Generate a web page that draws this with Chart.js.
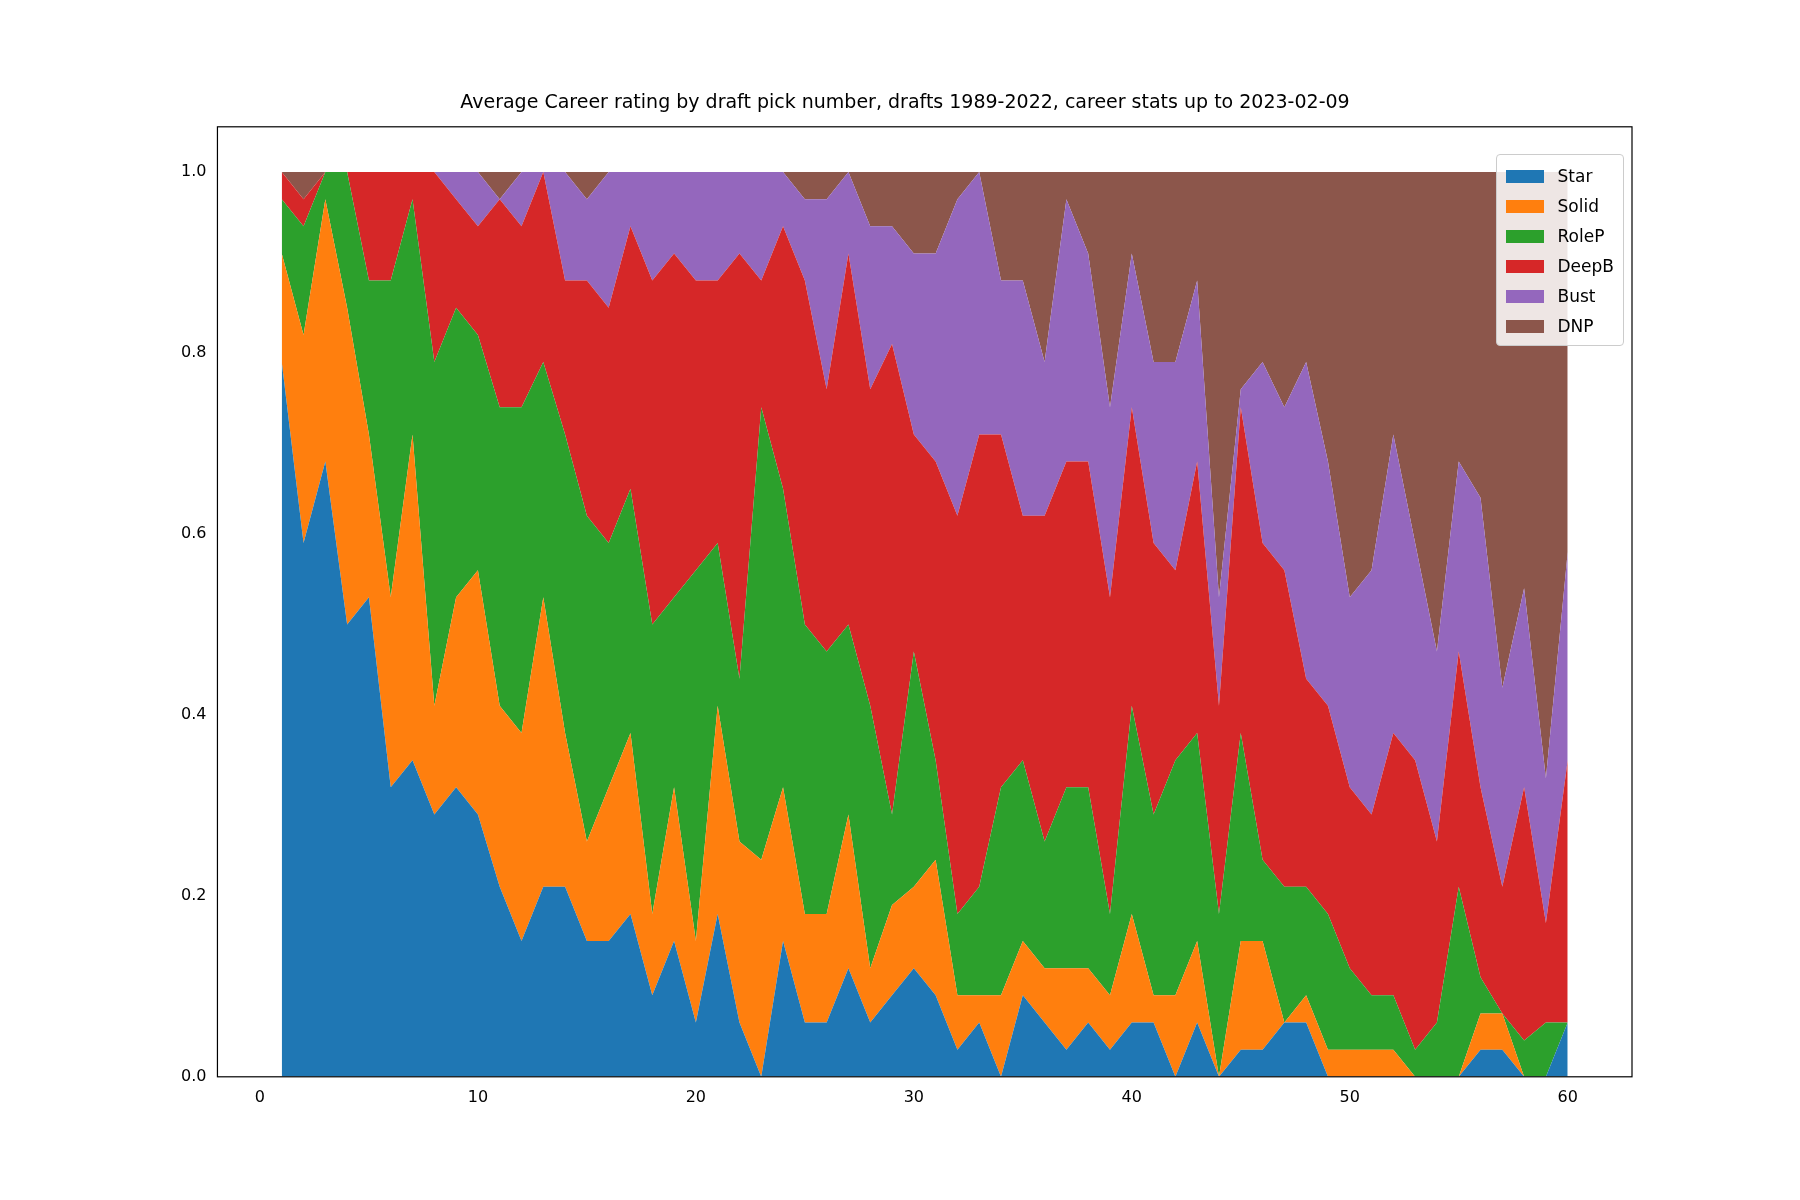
<!DOCTYPE html>
<html>
<head>
<meta charset="utf-8">
<script src="https://cdn.jsdelivr.net/npm/chart.js@4"></script>
<style>
  body { margin: 0; background: #fff; }
  #wrap { position: relative; width: 1800px; height: 1200px; }
  #legend { position: absolute; right: 176px; top: 154px; background: rgba(255,255,255,0.85);
    border: 1px solid #ccc; border-radius: 4px; padding: 6px 9px 4px 9px;
    font: 17px "DejaVu Sans", sans-serif; color: #000; }
  #legend div { display: flex; align-items: center; height: 30px; }
  #legend span.box { width: 38px; height: 13px; margin-right: 14px; display: inline-block; }
</style>
</head>
<body>
<div id="wrap">
  <canvas id="myChart" width="1800" height="1200"></canvas>
  <div id="legend"></div>
</div>
<script>
// cumulative top edges of each band, picks 1..60
const picks = Array.from({length: 60}, (_, i) => i + 1);
const starTop  = [0.79,0.59,0.68,0.50,0.53,0.32,0.35,0.29,0.32,0.29,0.21,0.15,0.21,0.21,0.15,0.15,0.18,0.09,0.15,0.06,
                  0.18,0.06,0.00,0.15,0.06,0.06,0.12,0.06,0.09,0.12,0.09,0.03,0.06,0.00,0.09,0.06,0.03,0.06,0.03,0.06,
                  0.06,0.00,0.06,0.00,0.03,0.03,0.06,0.06,0.00,0.00,0.00,0.00,0.00,0.00,0.00,0.03,0.03,0.00,0.00,0.06];
const solidTop = [0.91,0.82,0.97,0.85,0.71,0.53,0.71,0.41,0.53,0.56,0.41,0.38,0.53,0.38,0.26,0.32,0.38,0.18,0.32,0.15,
                  0.41,0.26,0.24,0.32,0.18,0.18,0.29,0.12,0.19,0.21,0.24,0.09,0.09,0.09,0.15,0.12,0.12,0.12,0.09,0.18,
                  0.09,0.09,0.15,0.00,0.15,0.15,0.06,0.09,0.03,0.03,0.03,0.03,0.00,0.00,0.00,0.07,0.07,0.00,0.00,0.06];
const rolePTop = [0.97,0.94,1.00,1.00,0.88,0.88,0.97,0.79,0.85,0.82,0.74,0.74,0.79,0.71,0.62,0.59,0.65,0.50,0.53,0.56,
                  0.59,0.44,0.74,0.65,0.50,0.47,0.50,0.41,0.29,0.47,0.35,0.18,0.21,0.32,0.35,0.26,0.32,0.32,0.18,0.41,
                  0.29,0.35,0.38,0.18,0.38,0.24,0.21,0.21,0.18,0.12,0.09,0.09,0.03,0.06,0.21,0.11,0.07,0.04,0.06,0.06];
const deepBTop = [1.00,0.97,1.00,1.00,1.00,1.00,1.00,1.00,0.97,0.94,0.97,0.94,1.00,0.88,0.88,0.85,0.94,0.88,0.91,0.88,
                  0.88,0.91,0.88,0.94,0.88,0.76,0.91,0.76,0.81,0.71,0.68,0.62,0.71,0.71,0.62,0.62,0.68,0.68,0.53,0.74,
                  0.59,0.56,0.68,0.41,0.74,0.59,0.56,0.44,0.41,0.32,0.29,0.38,0.35,0.26,0.47,0.32,0.21,0.32,0.17,0.35];
const bustTop  = [1.00,0.97,1.00,1.00,1.00,1.00,1.00,1.00,1.00,1.00,0.97,1.00,1.00,1.00,0.97,1.00,1.00,1.00,1.00,1.00,
                  1.00,1.00,1.00,1.00,0.97,0.97,1.00,0.94,0.94,0.91,0.91,0.97,1.00,0.88,0.88,0.79,0.97,0.91,0.74,0.91,
                  0.79,0.79,0.88,0.53,0.76,0.79,0.74,0.79,0.68,0.53,0.56,0.71,0.59,0.47,0.68,0.64,0.43,0.54,0.33,0.58];
const dnpTop   = picks.map(() => 1.0);

const seriesNames = ['Star', 'Solid', 'RoleP', 'DeepB', 'Bust', 'DNP'];
const seriesTops = [starTop, solidTop, rolePTop, deepBTop, bustTop, dnpTop];
const colors = ['#1f77b4', '#ff7f0e', '#2ca02c', '#d62728', '#9467bd', '#8c564b'];

const datasets = seriesNames.map((name, i) => ({
    label: name,
    data: picks.map((p, j) => ({x: p, y: seriesTops[i][j]})),
    backgroundColor: colors[i],
    borderColor: colors[i],
    borderWidth: 0,
    pointRadius: 0,
    fill: i === 0 ? 'origin' : '-1',
    tension: 0
}));

const frame = {
    id: 'frame',
    afterDraw(chart) {
        const a = chart.chartArea, c = chart.ctx;
        c.save();
        c.strokeStyle = '#000';
        c.lineWidth = 1.2;
        c.strokeRect(a.left, a.top, a.right - a.left, a.bottom - a.top);
        c.restore();
    }
};

const ctx = document.getElementById('myChart').getContext('2d');
new Chart(ctx, {
    type: 'line',
    data: { datasets: datasets },
    plugins: [frame],
    options: {
        responsive: false,
        animation: false,
        devicePixelRatio: 1,
        layout: { padding: { left: 178, right: 168, top: 92, bottom: 90 } },
        plugins: {
            legend: { display: false },
            tooltip: { enabled: false },
            filler: { propagate: false },
            title: {
                display: true,
                text: 'Average Career rating by draft pick number, drafts 1989-2022, career stats up to 2023-02-09',
                color: '#000',
                font: { family: 'DejaVu Sans', size: 19, weight: 'normal' },
                padding: { top: 0, bottom: 12 }
            }
        },
        scales: {
            x: {
                type: 'linear',
                min: -1.95, max: 62.95,
                grid: { display: false, drawTicks: true },
                border: { display: false },
                afterBuildTicks: axis => { axis.ticks = [0,10,20,30,40,50,60].map(v => ({value: v})); },
                ticks: { color: '#000', font: { family: 'DejaVu Sans', size: 16 }, maxRotation: 0 }
            },
            y: {
                min: 0, max: 1.05,
                grid: { display: false },
                border: { display: false },
                afterBuildTicks: axis => { axis.ticks = [0,0.2,0.4,0.6,0.8,1.0].map(v => ({value: v})); },
                ticks: { color: '#000', font: { family: 'DejaVu Sans', size: 16 },
                    callback: v => v.toFixed(1) }
            }
        }
    }
});

const legend = document.getElementById('legend');
seriesNames.forEach((name, i) => {
    const row = document.createElement('div');
    row.innerHTML = '<span class="box" style="background:' + colors[i] + '"></span>' + name;
    legend.appendChild(row);
});
</script>
</body>
</html>
